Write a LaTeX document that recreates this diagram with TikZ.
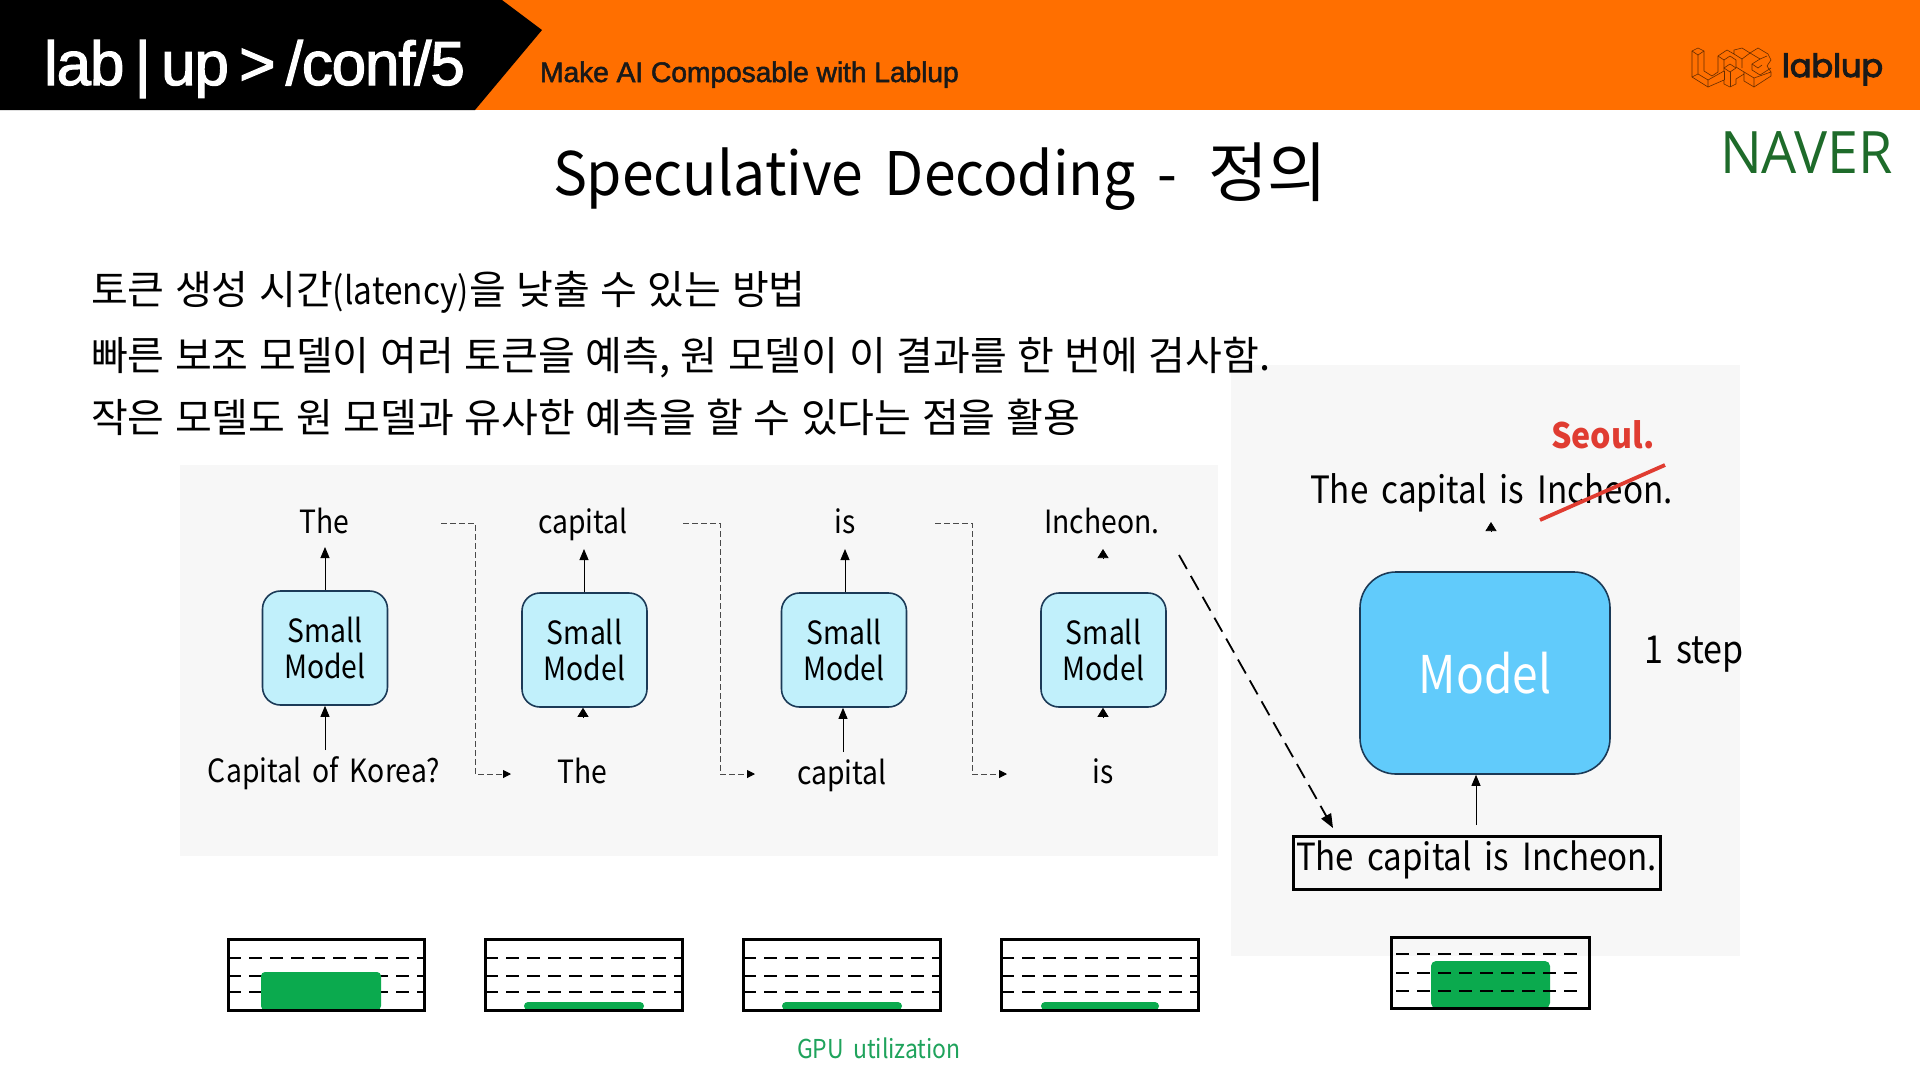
\documentclass[tikz,border=0pt]{standalone}
\usepackage{fontspec}
\setmainfont{Noto Sans CJK KR}
\newfontfamily\bodykr{Noto Sans CJK KR}[WordSpace=1.18]
\newfontfamily\bodylat{Noto Sans CJK KR}[FakeStretch=0.88]
\newfontfamily\seoulf{Noto Sans CJK KR}[FakeStretch=0.92]
\newfontfamily\narrow{Noto Sans CJK KR}[FakeStretch=0.885,WordSpace=1.75]
\newfontfamily\titlelat{Noto Sans CJK KR}[FakeStretch=0.95,WordSpace=1.7]
\newfontfamily\hdfont{Liberation Sans}[LetterSpace=-1.9]
\newfontfamily\slfont{Liberation Sans}[LetterSpace=-0.4]
\newfontfamily\logofont{Poppins}
\newfontfamily\latfont{Open Sans}[FakeStretch=0.95]
\usetikzlibrary{arrows.meta}
\definecolor{hdorange}{HTML}{FF6F00}
\definecolor{panelgray}{HTML}{F7F7F7}
\definecolor{smallfill}{HTML}{C1F0FB}
\definecolor{navyline}{HTML}{1B3A57}
\definecolor{modelfill}{HTML}{61CBFB}
\definecolor{navergreen}{HTML}{1E6B2A}
\definecolor{gpugreen}{HTML}{0BAA4E}
\definecolor{gputext}{HTML}{1FA35C}
\definecolor{seoulred}{HTML}{E03C31}
\definecolor{linkgray}{HTML}{4A4A4A}
\newcommand{\fs}[1]{\fontsize{#1}{#1}\selectfont}
\newcommand{\heavy}[2]{\special{pdf:code q 2 Tr #1 w}#2\special{pdf:code Q}}
\newcommand{\smodel}{\raisebox{-1pt}{Small}\\\raisebox{-1pt}{Model}}
\tikzset{
  txt/.style={inner sep=0pt,outer sep=0pt,anchor=base},
  txtw/.style={inner sep=0pt,outer sep=0pt,anchor=base west},
  smallbox/.style={draw=navyline,line width=1.6pt,fill=smallfill,rounded corners=18pt,minimum width=125pt,minimum height=114pt,inner sep=0pt,align=center,font={\narrow\fontsize{32}{36}\selectfont}},
  flow/.style={line width=0.9pt,-{Triangle[length=11pt,width=9pt]}},
  tiponly/.style={line width=0.6pt,-{Triangle[length=9pt,width=11pt]}},
  linkd/.style={draw=linkgray,line width=1pt,dash pattern=on 6pt off 3pt,-{Triangle[length=8pt,width=8pt,black]}},
  word/.style={txt,font={\narrow\fs{32}}},
  gpudash/.style={line width=2.6pt,dash pattern=on 13pt off 8pt},
  gpuframe/.style={line width=3pt}
}
\begin{document}
\begin{tikzpicture}[x=1pt,y=-1pt]
\useasboundingbox (0,0) rectangle (1920,1080);
\fill[white] (0,0) rectangle (1920,1080);
% header
\fill[hdorange] (0,0) rectangle (1920,110);
\fill[black] (0,0) -- (502,0) -- (542,30) -- (475,110) -- (0,110) -- cycle;
\node[txtw,text=white,font={\hdfont\fs{62}}] (brand) at (44,85) {\heavy{1.2}{lab\,|\,up\,>\,/conf/5}};
\node[txtw,text=black!90,font={\slfont\fs{28.3}}] (slogan) at (540,82) {\heavy{0.5}{Make AI Composable with Lablup}};
\node[txtw,text=black!90,font={\logofont\fs{32}}] (lablup) at (1782,77) {\heavy{1}{lablup}};
% logo
\begin{scope}[draw=black!60!hdorange,line width=0.6pt,line join=round]
\draw (1692,51) -- (1698,48) -- (1704,51) -- (1704,71) -- (1712,76) -- (1718,72) -- (1718,56) -- (1727,50) -- (1734,54) -- (1734,50) -- (1742,48) -- (1750,53) -- (1758,48) -- (1768,54) -- (1771,60) -- (1767,66) -- (1771,72) -- (1771,76) -- (1754,87) -- (1744,81) -- (1744,74) -- (1736,79) -- (1736,84) -- (1730,87) -- (1724,84) -- (1724,80) -- (1708,87) -- (1692,77) -- cycle;
\draw (1692,51) -- (1698,55) -- (1704,51);
\draw (1698,55) -- (1698,74) -- (1708,80) -- (1708,87);
\draw (1698,74) -- (1692,77);
\draw (1708,80) -- (1724,71) -- (1724,60) -- (1730,56) -- (1736,60) -- (1736,67) -- (1744,72) -- (1744,74);
\draw (1718,56) -- (1724,60);
\draw (1730,64) -- (1724,68) -- (1730,72) -- (1736,68) -- cycle;
\draw (1730,72) -- (1730,87);
\draw (1724,80) -- (1724,71);
\draw (1734,54) -- (1742,59) -- (1742,68);
\draw (1742,59) -- (1750,53);
\draw (1750,53) -- (1760,59) -- (1752,64) -- (1758,68) -- (1762,65);
\draw (1752,64) -- (1752,70) -- (1760,75) -- (1771,68);
\draw (1754,87) -- (1754,78) -- (1744,72);
\draw (1754,78) -- (1771,72);
\draw (1760,59) -- (1767,56);
\end{scope}
% panels
\fill[panelgray] (180,465) rectangle (1218,856);
\fill[panelgray] (1231,365) rectangle (1740,956);
% title etc
\node[txtw,font={\titlelat\fs{60}}] (title) at (553,195) {Speculative Decoding -};
\node[txtw,font=\fs{65}] (titlekr) at (1208,196) {정의};
\node[txtw,text=navergreen,font={\latfont\fs{58.5}}] (naver) at (1720,173) {NAVER};
\node[txtw,font={\bodykr\fs{40}}] (l1) at (91,304) {토큰 생성 시간{\bodylat\fs{38}(latency)}을 낮출 수 있는 방법};
\node[txtw,font={\bodykr\fs{40}}] (l2) at (91,370) {빠른 보조 모델이 여러 토큰을 예측, 원 모델이 이 결과를 한 번에 검사함.};
\node[txtw,font={\bodykr\fs{40}}] (l3) at (91,432) {작은 모델도 원 모델과 유사한 예측을 할 수 있다는 점을 활용};
% small models
\node[smallbox] (m1) at (325,648) {\smodel};
\node[smallbox] (m2) at (584.5,650) {\smodel};
\node[smallbox] (m3) at (844,650) {\smodel};
\node[smallbox] (m4) at (1103.5,650) {\smodel};
% words
\node[word] (o1) at (324,533) {The};
\node[word] (o2) at (583,533) {capital};
\node[word] (o3) at (845,533) {is};
\node[word] (o4) at (1102,533) {Incheon.};
\node[word] (i1) at (324,782) {Capital of Korea?};
\node[word] (i2) at (582,783) {The};
\node[word] (i3) at (842,784) {capital};
\node[word] (i4) at (1103,783) {is};
\coordinate (o1t) at (325,547); \coordinate (o2t) at (584,549); \coordinate (o3t) at (845,549);
\coordinate (o4s) at (1103,558); \coordinate (o4t) at (1103,549);
\coordinate (i1s) at (325,750); \coordinate (i3s) at (843,752);
\coordinate (i2s) at (583,717); \coordinate (i4s) at (1103,717);
\draw[flow] (m1.north -| o1t) -- (o1t);
\draw[flow] (m2.north -| o2t) -- (o2t);
\draw[flow] (m3.north -| o3t) -- (o3t);
\draw[tiponly] (o4s) -- (o4t);
\draw[flow] (i1s) -- (m1.south -| i1s);
\draw[tiponly] (i2s) -- (m2.south -| i2s);
\draw[flow] (i3s) -- (m3.south -| i3s);
\draw[tiponly] (i4s) -- (m4.south -| i4s);
% dashed links
\coordinate (a1) at (441,523); \coordinate (a2) at (475,523); \coordinate (a3) at (475,774); \coordinate (a4) at (511,774);
\coordinate (b1) at (683,523); \coordinate (b2) at (720,523); \coordinate (b3) at (720,774); \coordinate (b4) at (755,774);
\coordinate (c1) at (935,523); \coordinate (c2) at (972,523); \coordinate (c3) at (972,774); \coordinate (c4) at (1007,774);
\draw[linkd] (a1) -- (a2) -- (a3) -- (a4);
\draw[linkd] (b1) -- (b2) -- (b3) -- (b4);
\draw[linkd] (c1) -- (c2) -- (c3) -- (c4);
% right
\node[draw=navyline,line width=1.6pt,fill=modelfill,rounded corners=36pt,minimum width=250pt,minimum height=202pt,inner sep=0pt,text=white,font={\narrow\fs{52}}] (big) at (1485,673) {Model};
\node[txtw,font={\narrow\fs{38.5}}] (step) at (1644,663) {1 step};
\node[txtw,font={\narrow\fs{37.6}}] (res) at (1310,503) {The capital is Incheon.};
\node[txtw,text=seoulred,font={\seoulf\bfseries\fs{35}}] (seoul) at (1551,448) {Seoul.};
\coordinate (st1) at (1540,520); \coordinate (st2) at (1665,465);
\draw[seoulred,line width=3.8pt] (st1) -- (st2);
\coordinate (rs) at (1491,532); \coordinate (rt) at (1491,522);
\draw[tiponly] (rs) -- (rt);
\node[draw,line width=3pt,minimum width=367pt,minimum height=53pt,inner sep=0pt,font={\narrow\fs{37.4}},anchor=center] (inbox) at (1476.5,862.5) {\raisebox{-7.5pt}[0pt][0pt]{The capital is Incheon.}};
\coordinate (bs) at (1476,825);
\draw[flow] (bs) -- (big.south -| bs);
\coordinate (ld1) at (1179,555); \coordinate (ld2) at (1333,828);
\draw[line width=1.8pt,dash pattern=on 16pt off 8pt,-{Triangle[length=14pt,width=11pt]}] (ld1) -- (ld2);
% gpu graphs
\foreach \xa/\xb/\ga/\gb/\gt in {228/424/261/381/972,485/682/524/644/1002,743/940/782/902/1002,1001/1198/1041/1159/1002}{
  \foreach \yy in {958,976,992}{
    \draw[gpudash] (\xa,\yy) -- (\xb,\yy);
  }
  \fill[gpugreen,rounded corners=4pt] (\ga,1010) -- (\ga,\gt) -- (\gb,\gt) -- (\gb,1010) -- cycle;
  \draw[gpuframe] (\xa,939) rectangle (\xb,1010);
}
\fill[gpugreen,rounded corners=5pt] (1431,1008) -- (1431,961) -- (1550,961) -- (1550,1008) -- cycle;
\foreach \yy in {954,973,991}{
  \draw[gpudash] (1396,\yy) -- (1584,\yy);
}
\draw[gpuframe] (1391,937) rectangle (1589,1008);
\node[txtw,text=gputext,font={\narrow\fs{26}}] (gpu) at (797,1058) {GPU utilization};
\end{tikzpicture}
\end{document}
